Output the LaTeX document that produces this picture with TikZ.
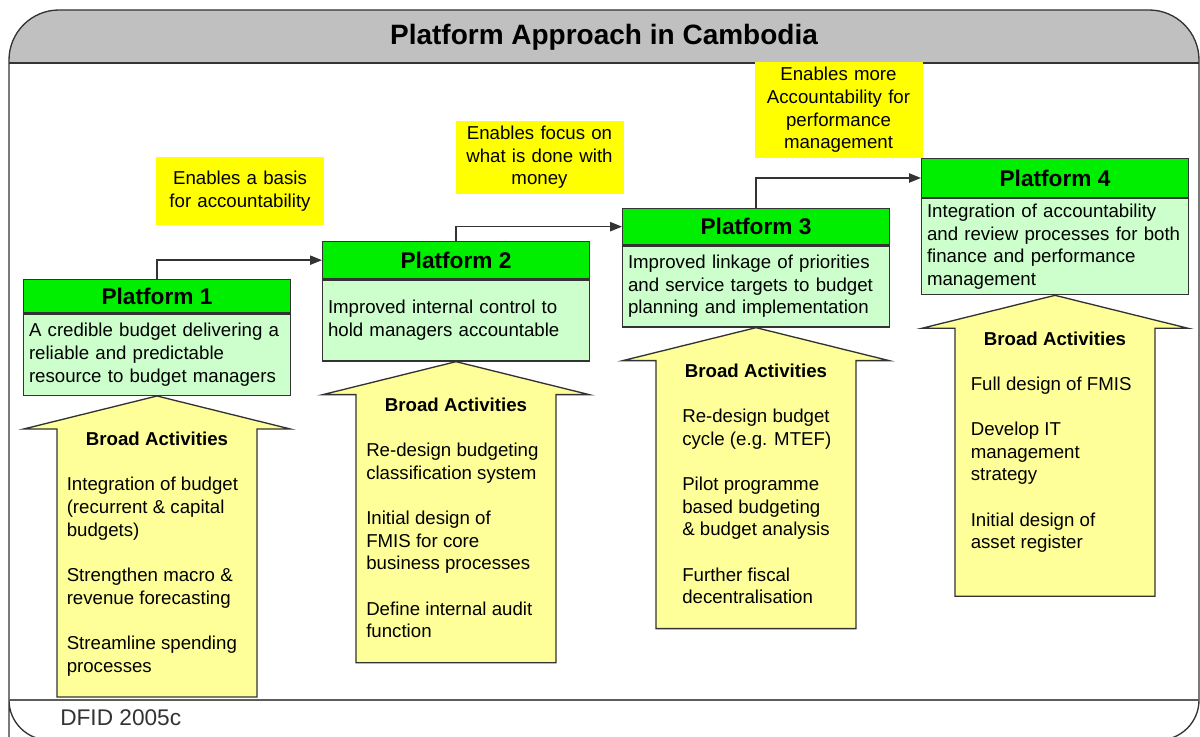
\documentclass[tikz,border=0pt]{standalone}
\usepackage{fontspec}
\setmainfont{Liberation Sans}
\usetikzlibrary{positioning,arrows.meta}
\definecolor{bandgray}{HTML}{C0C0C0}
\definecolor{hdgreen}{HTML}{00EE00}
\definecolor{bdgreen}{HTML}{CCFFCC}
\definecolor{lblyellow}{HTML}{FFFF00}
\definecolor{arrowyellow}{HTML}{FFFF99}
\definecolor{edge}{HTML}{333333}

\begin{document}
\begin{tikzpicture}[x=0.75pt,y=-0.75pt,
    phead/.style={draw=edge,line width=1pt,fill=hdgreen,anchor=north west,minimum width=200pt,minimum height=27pt,inner sep=0pt,font=\fontsize{17}{20}\selectfont\bfseries},
    pbody/.style={draw=edge,line width=1pt,fill=bdgreen,below=0pt of #1,text width=192pt,inner xsep=4pt,inner ysep=2pt,minimum height=60.75pt,align=left,font=\fontsize{14}{17}\selectfont},
    enable/.style={fill=lblyellow,text width=118pt,align=center,inner sep=4pt,font=\fontsize{14}{17}\selectfont},
    blockarrow/.style={draw=edge,line width=1pt,fill=arrowyellow},
    batitle/.style={font=\fontsize{14}{17}\selectfont\bfseries},
    actlist/.style={anchor=north west,align=left,inner sep=0pt,font=\fontsize{14}{17}\selectfont},
    link/.style={draw=edge,line width=1pt,-{Triangle[length=9pt,width=7pt]}}]
    \useasboundingbox (0,0) rectangle (1200,737);
    \begin{scope}
      \clip (9,700) [rounded corners=37.5pt] -- (9,10) -- (1199,10) -- (1199,400) [rounded corners=30pt] -- (1199,740) -- (9,740) -- cycle;
      \fill[bandgray] (0,0) rectangle (1200,63);
    \end{scope}
    \draw[edge,line width=1pt] (9,700) [rounded corners=37.5pt] -- (9,10) -- (1199,10) -- (1199,400) [rounded corners=30pt] -- (1199,740) -- (9,740) -- cycle;
    \draw[edge,line width=1.4pt] (9,63) -- (1199,63);
    \draw[edge!80,line width=1.4pt] (9,700) -- (1199,700);
    \node[font=\fontsize{21}{25}\selectfont\bfseries] (title) at (604,37) {Platform Approach in Cambodia};
    \node[anchor=west,inner sep=0pt,text=edge,font=\fontsize{17}{20}\selectfont] (source) at (60,718) {DFID 2005c};

    \node[enable,minimum height=51pt] (lab1) at (240,191) {Enables a basis\\for accountability};
    \node[enable,minimum height=52pt] (lab2) at (539.5,157.5) {Enables focus on\\what is done with\\money};
    \node[enable,minimum height=70.5pt] (lab3) at (838.5,110) {Enables more\\Accountability for\\performance\\management};

    \node[phead,minimum height=25pt] (p1h) at (23,279) {Platform 1};
    \node[pbody=p1h] (p1b) {A credible budget delivering a\\reliable and predictable\\resource to budget managers};
    \node[phead,minimum height=27.75pt] (p2h) at (322,241) {Platform 2};
    \node[pbody=p2h] (p2b) {Improved internal control to\\hold managers accountable};
    \node[phead] (p3h) at (622,208) {Platform 3};
    \node[pbody=p3h] (p3b) {Improved linkage of priorities\\and service targets to budget\\planning and implementation};
    \node[phead,minimum height=29pt] (p4h) at (921,158) {Platform 4};
    \node[pbody=p4h,minimum height=72pt] (p4b) {Integration of accountability\\and review processes for both\\finance and performance\\management};

    \draw[link] (p1h.north) |- (p2h.west);
    \draw[link] (p2h.north) |- (p3h.west);
    \draw[link] (p3h.north) |- (p4h.west);

    \foreach \n in {1,...,4}
      \draw[blockarrow] (p\n b.south) -- ++(-133.3,33) -- ++(33.3,0) -- ++(0,268) -- ++(200,0) -- ++(0,-268) -- ++(33.3,0) -- cycle;
    \foreach \n in {1,...,4}
      \path (p\n b.south) ++(0,43) node[batitle] (ba\n) {Broad Activities};

    \node[actlist] (act1) at ([shift={(-90.5,38)}]ba1.center) {Integration of budget\\(recurrent \& capital\\budgets)\\[17pt]Strengthen macro \&\\revenue forecasting\\[17pt]Streamline spending\\processes};
    \node[actlist] (act2) at ([shift={(-90,38)}]ba2.center) {Re-design budgeting\\classification system\\[17pt]Initial design of\\FMIS for core\\business processes\\[17pt]Define internal audit\\function};
    \node[actlist] (act3) at ([shift={(-74,38)}]ba3.center) {Re-design budget\\cycle (e.g. MTEF)\\[17pt]Pilot programme\\based budgeting\\\& budget analysis\\[17pt]Further fiscal\\decentralisation};
    \node[actlist] (act4) at ([shift={(-84.5,38)}]ba4.center) {Full design of FMIS\\[17pt]Develop IT\\management\\strategy\\[17pt]Initial design of\\asset register};
\end{tikzpicture}
\end{document}
